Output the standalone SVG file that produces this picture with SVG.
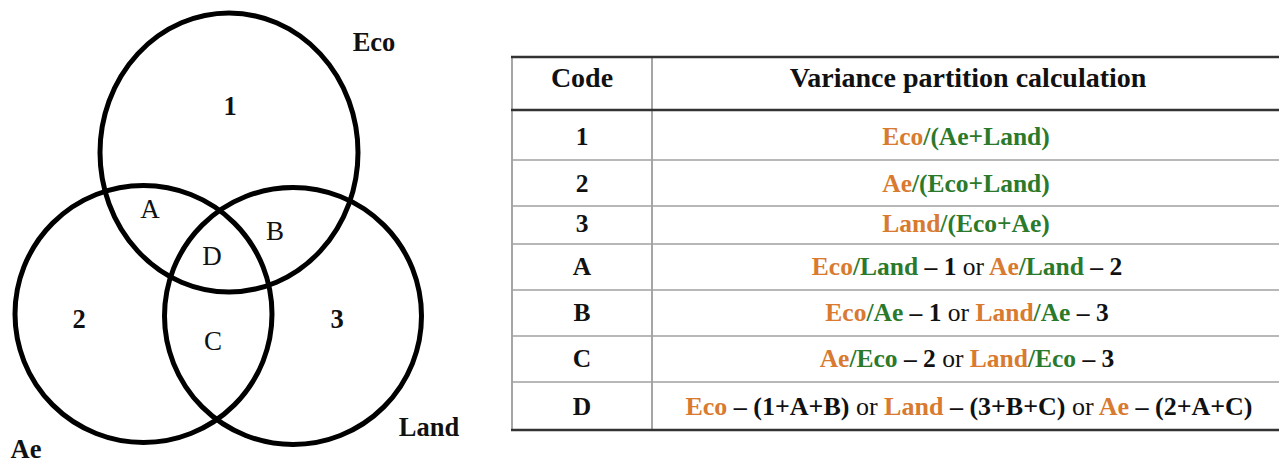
<svg xmlns="http://www.w3.org/2000/svg" width="1279" height="464" viewBox="0 0 1279 464">
<style>
.c{fill:none;stroke:#000;stroke-width:5}
.vl{font-family:"Liberation Serif","Times New Roman",serif;font-size:27px;fill:#111;text-anchor:middle}
.b{font-weight:bold;font-size:26.5px}
.t{font-family:"Liberation Serif","Times New Roman",serif;font-size:25.5px;font-weight:bold;fill:#111;text-anchor:middle}
.h{font-size:28px}
.d{font-size:26px}
.o{fill:#d87a30}
.g{fill:#2b7a2b}
.n{font-weight:normal}
.thick{stroke:#333;stroke-width:2.5}
.thin{stroke:#a0a0a0;stroke-width:1.3}
.v{stroke:#909090;stroke-width:1.6}
</style>
<rect width="1279" height="464" fill="#fff"/>
<g id="venn">
  <g id="eco"><ellipse class="c" cx="229" cy="152.5" rx="129" ry="139.5"/></g>
  <g id="ae"><circle class="c" cx="143.5" cy="314" r="128.5"/></g>
  <g id="land"><circle class="c" cx="293" cy="316" r="128.5"/></g>
  <g id="venn-labels">
    <text class="vl b" x="374" y="51">Eco</text>
    <text class="vl b" x="429" y="436">Land</text>
    <text class="vl b" x="26" y="458">Ae</text>
    <text class="vl b" x="230" y="115">1</text>
    <text class="vl b" x="79" y="328">2</text>
    <text class="vl b" x="337" y="328">3</text>
    <text class="vl" x="150" y="218">A</text>
    <text class="vl" x="275" y="240">B</text>
    <text class="vl" x="213" y="350">C</text>
    <text class="vl" x="212" y="265">D</text>
  </g>
</g>
<g id="table">
  <g id="grid">
    <line class="v" x1="512" y1="57" x2="512" y2="430"/>
    <line class="v" x1="652" y1="57" x2="652" y2="430"/>
    <line class="thin" x1="512" y1="160" x2="1279" y2="160"/>
    <line class="thin" x1="512" y1="206" x2="1279" y2="206"/>
    <line class="thin" x1="512" y1="244" x2="1279" y2="244"/>
    <line class="thin" x1="512" y1="290" x2="1279" y2="290"/>
    <line class="thin" x1="512" y1="336" x2="1279" y2="336"/>
    <line class="thin" x1="512" y1="382" x2="1279" y2="382"/>
    <line class="thick" x1="511" y1="57" x2="1279" y2="57"/>
    <line class="thick" x1="511" y1="110" x2="1279" y2="110"/>
    <line class="thick" x1="511" y1="430" x2="1279" y2="430"/>
  </g>
  <g id="header">
    <text class="t h" x="582" y="87">Code</text>
    <text class="t h" x="968" y="87">Variance partition calculation</text>
  </g>
  <g id="row-1">
    <text class="t" x="582" y="145">1</text>
    <text class="t" x="966" y="145"><tspan class="o">Eco</tspan><tspan class="g">/(Ae+Land)</tspan></text>
  </g>
  <g id="row-2">
    <text class="t" x="582" y="192">2</text>
    <text class="t" x="966" y="192"><tspan class="o">Ae</tspan><tspan class="g">/(Eco+Land)</tspan></text>
  </g>
  <g id="row-3">
    <text class="t" x="582" y="232">3</text>
    <text class="t" x="966" y="232"><tspan class="o">Land</tspan><tspan class="g">/(Eco+Ae)</tspan></text>
  </g>
  <g id="row-A">
    <text class="t" x="582" y="275">A</text>
    <text class="t" x="967" y="275"><tspan class="o">Eco</tspan><tspan class="g">/Land</tspan> – 1 <tspan class="n">or</tspan> <tspan class="o">Ae</tspan><tspan class="g">/Land</tspan> – 2</text>
  </g>
  <g id="row-B">
    <text class="t" x="582" y="321">B</text>
    <text class="t" x="967" y="321"><tspan class="o">Eco</tspan><tspan class="g">/Ae</tspan> – 1 <tspan class="n">or</tspan> <tspan class="o">Land</tspan><tspan class="g">/Ae</tspan> – 3</text>
  </g>
  <g id="row-C">
    <text class="t" x="582" y="367">C</text>
    <text class="t" x="967" y="367"><tspan class="o">Ae</tspan><tspan class="g">/Eco</tspan> – 2 <tspan class="n">or</tspan> <tspan class="o">Land</tspan><tspan class="g">/Eco</tspan> – 3</text>
  </g>
  <g id="row-D">
    <text class="t" x="582" y="415">D</text>
    <text class="t d" x="969" y="415"><tspan class="o">Eco</tspan> – (1+A+B) <tspan class="n">or</tspan> <tspan class="o">Land</tspan> – (3+B+C) <tspan class="n">or</tspan> <tspan class="o">Ae</tspan> – (2+A+C)</text>
  </g>
</g>
</svg>
